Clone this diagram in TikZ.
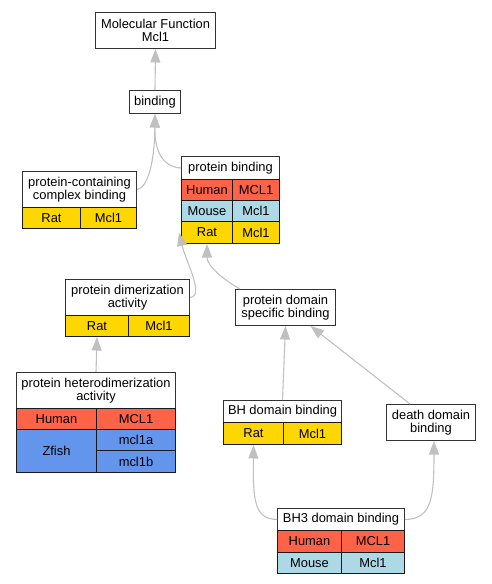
\documentclass[tikz,border=0pt]{standalone}
\usepackage{fontspec}
\setmainfont{Liberation Sans}
\usetikzlibrary{arrows.meta}

\definecolor{human}{HTML}{FF6347}
\definecolor{mouse}{HTML}{ADD8E6}
\definecolor{rat}{HTML}{FFD700}
\definecolor{zfish}{HTML}{6495ED}
\definecolor{linkgray}{HTML}{C0C0C0}

\begin{document}
\begin{tikzpicture}[x=1pt,y=-1pt,
	term/.style={draw=black!80, line width=1pt, fill=white, anchor=north west,
		inner sep=0pt, align=center, font=\fontsize{12.9}{12.6}\selectfont},
	cell/.style={term, draw=black!90},
	link/.style={draw=linkgray, line width=1.1pt, -{Triangle[length=13.5pt,width=10pt]}}]
				\useasboundingbox (0,0) rectangle (491,584);
				
				% Верхние термины
				\node[term, minimum width=120, minimum height=36] (mf) at (95,12) {Molecular Function\\Mcl1};
				\node[term, minimum width=51, minimum height=23] (bind) at (129,90) {binding};
				
				% protein-containing complex binding
				\node[term, minimum width=114, minimum height=36] (pcc) at (22,171) {protein-containing\\complex binding};
				\node[cell, fill=rat, minimum width=58, minimum height=21] (pccrat) at (22,207) {Rat};
				\node[cell, fill=rat, minimum width=56, minimum height=21] (pccratg) at (80,207) {Mcl1};
				
				% protein binding
				\node[term, minimum width=98, minimum height=23] (pb) at (181,156) {protein binding};
				\node[cell, fill=human, minimum width=51, minimum height=21] (pbhuman) at (181,179) {Human};
				\node[cell, fill=human, minimum width=47, minimum height=21] (pbhumang) at (232,179) {MCL1};
				\node[cell, fill=mouse, minimum width=51, minimum height=21] (pbmouse) at (181,200) {Mouse};
				\node[cell, fill=mouse, minimum width=47, minimum height=21] (pbmouseg) at (232,200) {Mcl1};
				\node[cell, fill=rat, minimum width=51, minimum height=22] (pbrat) at (181,221) {Rat};
				\node[cell, fill=rat, minimum width=47, minimum height=22] (pbratg) at (232,221) {Mcl1};
				
				% protein dimerization activity
				\node[term, minimum width=124, minimum height=36] (pda) at (65,279) {protein dimerization\\activity};
				\node[cell, fill=rat, minimum width=63, minimum height=21] (pdarat) at (65,315) {Rat};
				\node[cell, fill=rat, minimum width=61, minimum height=21] (pdaratg) at (128,315) {Mcl1};
				
				% protein heterodimerization activity
				\node[term, minimum width=159, minimum height=36] (pha) at (16,372) {protein heterodimerization\\activity};
				\node[cell, fill=human, minimum width=80, minimum height=21] (phahuman) at (16,408) {Human};
				\node[cell, fill=human, minimum width=79, minimum height=21] (phahumang) at (96,408) {MCL1};
				\node[cell, fill=zfish, minimum width=80, minimum height=43] (phazfish) at (16,429) {Zfish};
				\node[cell, fill=zfish, minimum width=79, minimum height=21] (phazfisha) at (96,429) {mcl1a};
				\node[cell, fill=zfish, minimum width=79, minimum height=22] (phazfishb) at (96,450) {mcl1b};
				
				% protein domain specific binding и его потомки
				\node[term, minimum width=100, minimum height=36] (pdsb) at (235,289) {protein domain\\specific binding};
				\node[term, minimum width=118, minimum height=22] (bhd) at (223,400) {BH domain binding};
				\node[cell, fill=rat, minimum width=60, minimum height=22] (bhdrat) at (223,422) {Rat};
				\node[cell, fill=rat, minimum width=58, minimum height=22] (bhdratg) at (283,422) {Mcl1};
				\node[term, minimum width=89, minimum height=36] (ddb) at (386,404) {death domain\\binding};
				
				% BH3 domain binding
				\node[term, minimum width=127, minimum height=22] (bh3) at (277,508) {BH3 domain binding};
				\node[cell, fill=human, minimum width=64, minimum height=22] (bh3human) at (277,530) {Human};
				\node[cell, fill=human, minimum width=63, minimum height=22] (bh3humang) at (341,530) {MCL1};
				\node[cell, fill=mouse, minimum width=64, minimum height=21] (bh3mouse) at (277,552) {Mouse};
				\node[cell, fill=mouse, minimum width=63, minimum height=21] (bh3mouseg) at (341,552) {Mcl1};
				
				% Связи
				\draw[link] (bind.north) -- (mf.south);
				\draw[link] (pcc.east) .. controls (147,188) and (154.5,165) .. (bind.south);
				\draw[link] (pb.west) .. controls (162,167) and (154.5,150) .. (bind.south);
				\draw[link] (pda.east) .. controls (205,296) and (186,262) .. ([xshift=-2pt]pbrat.west);
				\draw[link] ([xshift=5pt]pdsb.north west) .. controls (224,280) and (207,266) .. (pbrat.south);
				\draw[link] (pha.north) -- (pdarat.south);
				\draw[link] (bhd.north) -- (pdsb.south);
				\draw[link] ([xshift=-21pt]ddb.north) -- ([xshift=25pt]pdsb.south);
				\draw[link] (bh3.west) .. controls (254,519) and (253,500) .. (bhdrat.south);
				\draw[link] (bh3.east) .. controls (431,519) and (434,500) .. ([xshift=3pt]ddb.south);
			\end{tikzpicture}
\end{document}
